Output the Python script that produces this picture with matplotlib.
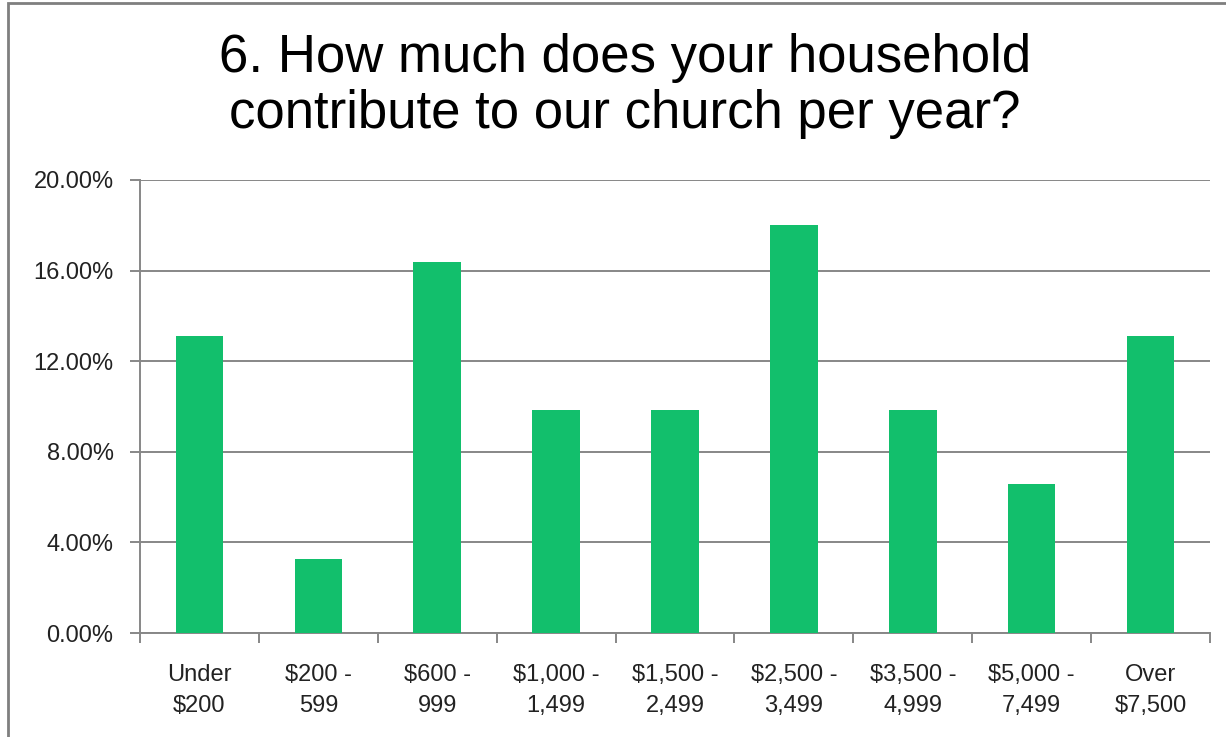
"""
Survey chart: yearly household contribution to the church
"""

import matplotlib.pyplot as plt
from matplotlib.patches import Rectangle
from matplotlib.ticker import FuncFormatter, MultipleLocator

# data
categories = ['Under\n$200', '$200 -\n599', '$600 -\n999', '$1,000 -\n1,499',
              '$1,500 -\n2,499', '$2,500 -\n3,499', '$3,500 -\n4,999',
              '$5,000 -\n7,499', 'Over\n$7,500']
percentages = [13.11, 3.28, 16.39, 9.84, 9.84, 18.03, 9.84, 6.56, 13.11]
title = '6. How much does your household\ncontribute to our church per year?'

bar_color = '#12BF6C'
grid_color = '#878787'

plt.rcParams['font.family'] = ['Liberation Sans', 'DejaVu Sans']

fig = plt.figure(figsize=(12.26, 7.37), dpi=100)
ax = fig.add_axes([140 / 1226, 1 - 633 / 737, 1070 / 1226, 453 / 737])

x = range(len(categories))
ax.bar(x, percentages, width=0.4, color=bar_color, zorder=3)

ax.set_xlim(-0.5, len(categories) - 0.5)
ax.set_ylim(0, 20)
ax.yaxis.set_major_locator(MultipleLocator(4))
ax.yaxis.set_major_formatter(FuncFormatter(lambda v, p: f'{v:.2f}%'))
ax.grid(axis='y', color=grid_color, linewidth=1.4, zorder=0)

# category labels at centres, tick marks at boundaries
ax.set_xticks(list(x))
ax.set_xticklabels(categories, fontsize=17, linespacing=1.55, color='#222222')
ax.tick_params(axis='x', length=0, pad=22)
ax.set_xticks([i - 0.5 for i in range(len(categories) + 1)], minor=True)
ax.tick_params(axis='x', which='minor', length=7, width=1.4, color=grid_color)
ax.tick_params(axis='y', length=7, width=1.4, color=grid_color, labelsize=17,
               labelcolor='#222222', pad=12)

for side in ['top', 'right']:
    ax.spines[side].set_visible(False)
for side in ['left', 'bottom']:
    ax.spines[side].set_color(grid_color)
    ax.spines[side].set_linewidth(1.4)

fig.text(625 / 1226, 1 - 33 / 737, title, ha='center', va='top',
         fontsize=38, linespacing=1.16)

# outer chart border (left and top only visible)
fig.patches.append(Rectangle((8 / 1226, -0.01), 1.05, 1 - 3 / 737 + 0.01,
                             transform=fig.transFigure, fill=False,
                             edgecolor='#7f7f7f', linewidth=2))

fig.savefig('out.png', dpi=100, facecolor='white')
